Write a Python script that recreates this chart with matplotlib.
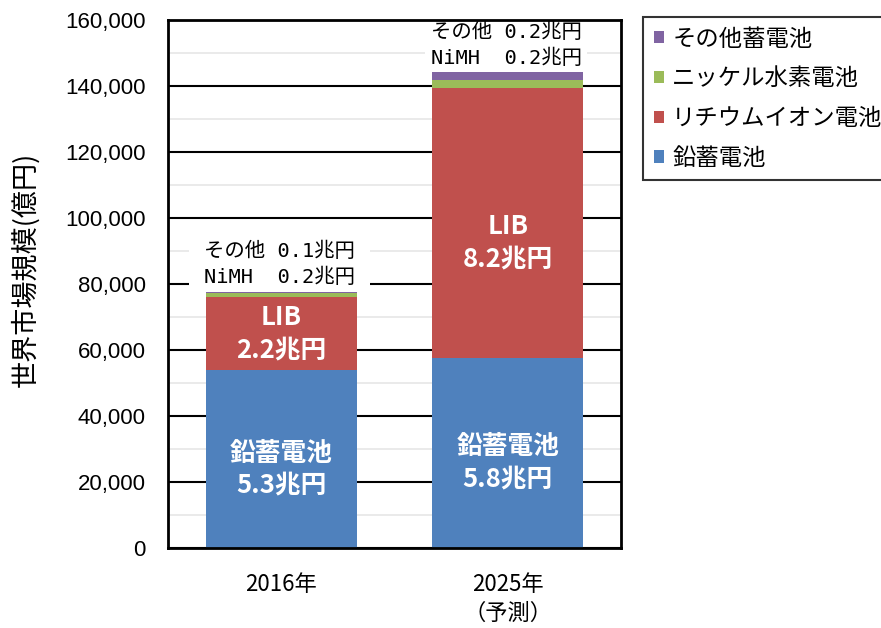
import matplotlib
matplotlib.use("Agg")
import matplotlib.pyplot as plt
from matplotlib.ticker import MultipleLocator, FuncFormatter
from matplotlib.patches import Patch
import numpy as np

plt.rcParams['font.family'] = ['Liberation Sans', 'Noto Sans CJK JP', 'DejaVu Sans']

categories = ['2016年', '2025年\n（予測）']
lead = [53800, 57500]
lib = [22400, 82000]
nimh = [1200, 2300]
other = [300, 2300]

series_names = ['鉛蓄電池', 'リチウムイオン電池', 'ニッケル水素電池', 'その他蓄電池']
colors = ['#4F81BD', '#C0504D', '#9BBB59', '#8064A2']

lead_labels = ['鉛蓄電池\n5.3兆円', '鉛蓄電池\n5.8兆円']
lib_labels = ['LIB\n2.2兆円', 'LIB\n8.2兆円']
nimh_labels = ['0.2兆円', '0.2兆円']
other_labels = ['0.1兆円', '0.2兆円']

fig = plt.figure(figsize=(8.81, 6.28), dpi=100)
ax = fig.add_axes([168/881, 1-548/628, (621-168)/881, (548-20)/628])

x = np.arange(len(categories))
w = 0.665
data = [lead, lib, nimh, other]
bottom = np.zeros(len(categories))
for vals, c, n in zip(data, colors, series_names):
    ax.bar(x, vals, w, bottom=bottom, color=c, edgecolor='none', label=n, zorder=3)
    bottom = bottom + np.array(vals)
totals = bottom

ax.set_xlim(-0.5, 1.5)
ax.set_ylim(0, 160000)
ax.yaxis.set_major_locator(MultipleLocator(20000))
ax.yaxis.set_minor_locator(MultipleLocator(10000))
ax.yaxis.set_major_formatter(FuncFormatter(lambda v, p: f'{int(v):,}'))
ax.grid(which='major', axis='y', color='black', lw=1.5, zorder=1)
ax.grid(which='minor', axis='y', color='#e6e6e6', lw=1.2, zorder=0)
ax.tick_params(axis='y', which='both', length=0, labelsize=16, pad=16)
ax.tick_params(axis='x', length=0, labelsize=16, pad=18)
ax.set_xticks(x)
ax.set_xticklabels(categories, family=['Noto Sans CJK JP'], linespacing=1.35)
for s in ax.spines.values():
    s.set_linewidth(2)
    s.set_color('black')
    s.set_zorder(8)

ax.set_ylabel('世界市場規模(億円)', family=['Noto Sans CJK JP'], fontsize=19.5)
ax.yaxis.set_label_coords(-0.284, 0.527)

# in-bar labels
for i in range(len(categories)):
    ax.text(x[i], lead[i] * 0.5 - 3000, lead_labels[i], ha='center', va='center',
            color='white', fontsize=18.5, fontweight='bold', family=['Noto Sans CJK JP'],
            linespacing=1.25, zorder=6)
    ax.text(x[i], lead[i] + min(lib[i] * 0.5, 35000), lib_labels[i], ha='center', va='center',
            color='white', fontsize=18.5, fontweight='bold', family=['Noto Sans CJK JP'],
            linespacing=1.25, zorder=6)

# labels above bars
mono = ['DejaVu Sans Mono', 'Noto Sans CJK JP']
box_pads = [11, 4]
for i in range(len(categories)):
    y0 = totals[i] + 1300
    txt = 'その他 ' + other_labels[i] + '\n' + 'NiMH  ' + nimh_labels[i]
    ax.text(x[i] - w / 2 - 0.008, y0, txt, ha='left', va='bottom', fontsize=14.7,
            family=mono, linespacing=1.45, zorder=2.5,
            bbox=dict(facecolor='white', edgecolor='none', pad=box_pads[i]))

handles = [Patch(facecolor=c, edgecolor='none') for c in colors][::-1]
labels = series_names[::-1]
leg = fig.legend(handles, labels, loc='upper left', bbox_to_anchor=(643/881, 1-17/628),
                 borderaxespad=0, frameon=True, fancybox=False, edgecolor='black',
                 prop={'family': 'Noto Sans CJK JP', 'size': 16.8}, handlelength=0.45,
                 handleheight=0.45, handletextpad=0.35, labelspacing=0.72, borderpad=0.45)
leg.get_frame().set_linewidth(1.5)

fig.savefig('out.png', dpi=100)
